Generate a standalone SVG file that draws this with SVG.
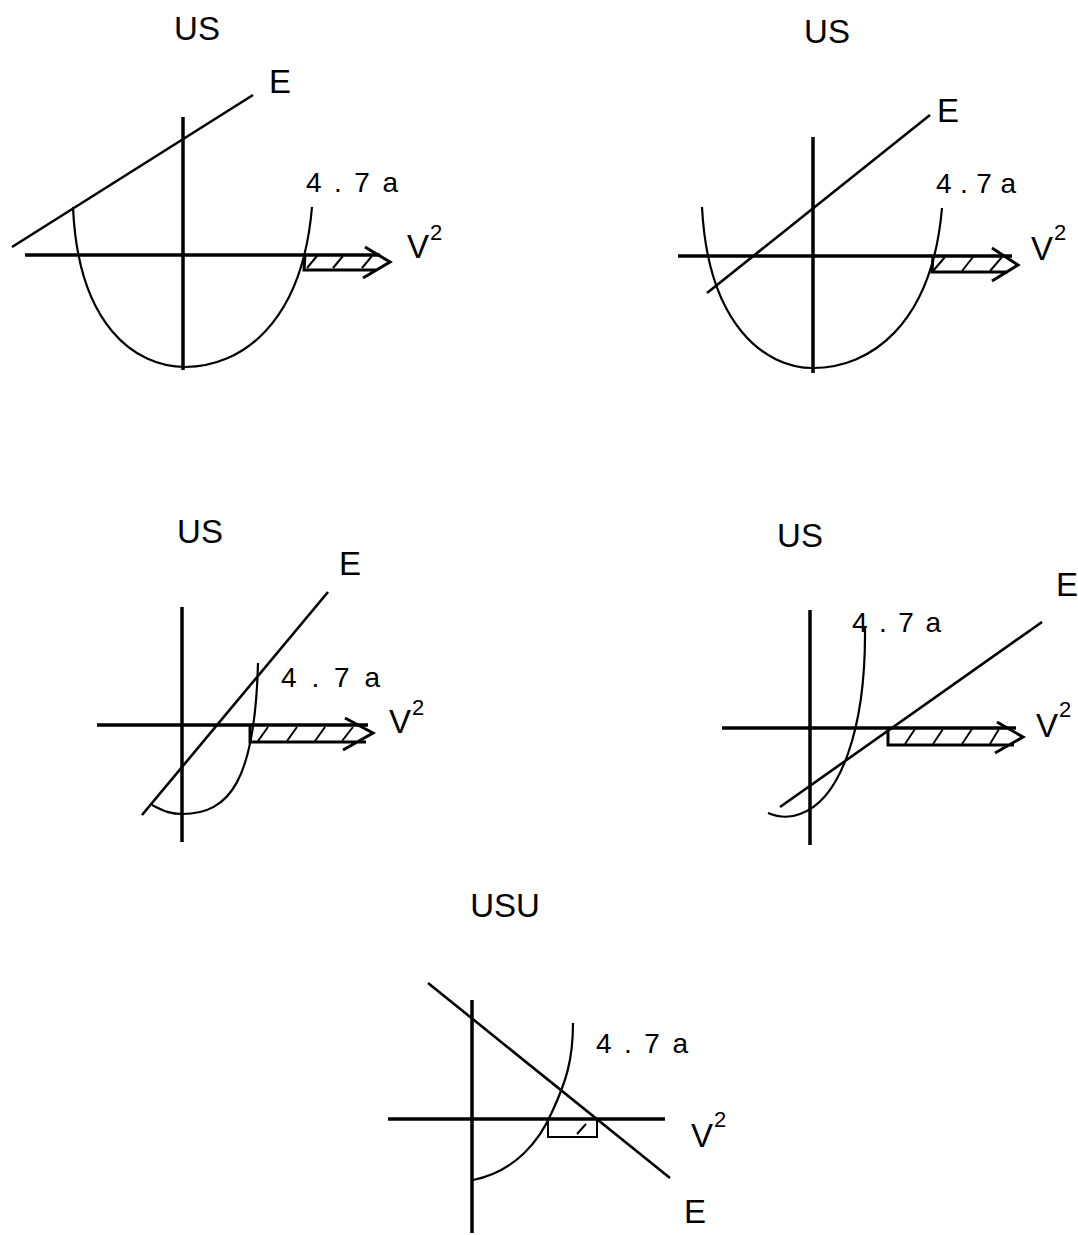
<svg xmlns="http://www.w3.org/2000/svg" width="1078" height="1235" viewBox="0 0 1078 1235">
<style>
text{font-family:"Liberation Sans","DejaVu Sans",sans-serif;fill:#000}
.t{font-size:33px;text-anchor:middle}
.e{font-size:33px}
.n{font-size:28px}
.v{font-size:33px}
.s{font-size:22px}
.ax{stroke:#000;stroke-width:3.5;fill:none;stroke-linecap:butt}
.ln{stroke:#000;stroke-width:2.6;fill:none}
.cv{stroke:#000;stroke-width:2.2;fill:none}
.ar{stroke:#000;stroke-width:3;fill:none;stroke-linejoin:miter}
.h{stroke:#000;stroke-width:2;fill:none}
</style>
<rect width="1078" height="1235" fill="#fff"/>

<g id="panel1">
<text class="t" x="197" y="40">US</text>
<line class="ax" x1="183" y1="117" x2="183" y2="370"/>
<line class="ax" x1="25" y1="255" x2="380" y2="255"/>
<line class="ln" x1="12" y1="247" x2="253" y2="95"/>
<path class="cv" d="M73,207 C78,325 135,367 185,367 C240,367 302,325 312,207"/>
<path class="ar" d="M305,255 L304,270 L377,270 M365,247 L390,262 L363,278"/>
<path class="h" d="M307,268 L317,256 M333,268 L343,256 M362,268 L372,256"/>
<text class="e" x="269" y="93">E</text>
<text class="n" x="306" y="192" textLength="92" lengthAdjust="spacing">4.7a</text>
<text class="v" x="407" y="258">V<tspan class="s" dx="1" dy="-18">2</tspan></text>
</g>

<g id="panel2">
<text class="t" x="827" y="43">US</text>
<line class="ax" x1="813" y1="137" x2="813" y2="373"/>
<line class="ax" x1="678" y1="256" x2="1012" y2="256"/>
<line class="ln" x1="707" y1="293" x2="930" y2="115"/>
<path class="cv" d="M702,207 C708,325 765,368 813,368 C870,368 932,325 942,208"/>
<path class="ar" d="M933,256 L932,272 L1008,272 M992,248 L1018,265 L992,281"/>
<path class="h" d="M933,271 L945,257 M962,271 L973,257 M990,271 L1002,257"/>
<text class="e" x="937" y="122">E</text>
<text class="n" x="936" y="193" textLength="80" lengthAdjust="spacing">4.7a</text>
<text class="v" x="1031" y="260">V<tspan class="s" dx="1" dy="-20">2</tspan></text>
</g>

<g id="panel3">
<text class="t" x="200" y="543">US</text>
<line class="ax" x1="182" y1="607" x2="182" y2="842"/>
<line class="ax" x1="97" y1="725" x2="368" y2="725"/>
<line class="ln" x1="142" y1="815" x2="328" y2="592"/>
<path class="cv" d="M152,805 C165,812 172,814 182,814 C230,814 255,780 258,663"/>
<path class="ar" d="M250,725 L250,742 L366,742 M345,718 L373,733 L343,750"/>
<path class="h" d="M258,741 L268,727 M287,741 L297,727 M315,741 L325,727 M342,741 L353,727"/>
<text class="e" x="339" y="575">E</text>
<text class="n" x="281" y="687" textLength="99" lengthAdjust="spacing">4.7a</text>
<text class="v" x="389" y="733">V<tspan class="s" dx="1" dy="-18">2</tspan></text>
</g>

<g id="panel4">
<text class="t" x="800" y="547">US</text>
<line class="ax" x1="810" y1="610" x2="810" y2="845"/>
<line class="ax" x1="722" y1="728" x2="1016" y2="728"/>
<line class="ln" x1="780" y1="807" x2="1042" y2="622"/>
<path class="cv" d="M768,813 Q785,820 800,814 C840,800 866,730 865,628"/>
<path class="ar" d="M888,728 L888,745 L1014,745 M997,722 L1023,737 L995,753"/>
<path class="h" d="M905,744 L915,729 M933,744 L943,729 M962,744 L972,729 M990,744 L999,729"/>
<text class="e" x="1056" y="596">E</text>
<text class="n" x="852" y="632" textLength="89" lengthAdjust="spacing">4.7a</text>
<text class="v" x="1036" y="737">V<tspan class="s" dx="1" dy="-20">2</tspan></text>
</g>

<g id="panel5">
<text class="t" x="505" y="917">USU</text>
<line class="ax" x1="472" y1="1000" x2="472" y2="1233"/>
<line class="ax" x1="388" y1="1119" x2="665" y2="1119"/>
<line class="ln" x1="428" y1="983" x2="670" y2="1178"/>
<path class="cv" d="M473,1180 C515,1172 540,1140 552,1112 C566,1082 573,1060 573,1023"/>
<rect x="548" y="1119" width="49" height="18" fill="none" stroke="#000" stroke-width="2"/>
<path class="h" d="M577,1134 L586,1124"/>
<text class="e" x="684" y="1223">E</text>
<text class="n" x="596" y="1053" textLength="92" lengthAdjust="spacing">4.7a</text>
<text class="v" x="691" y="1147">V<tspan class="s" dx="1" dy="-20">2</tspan></text>
</g>
</svg>
